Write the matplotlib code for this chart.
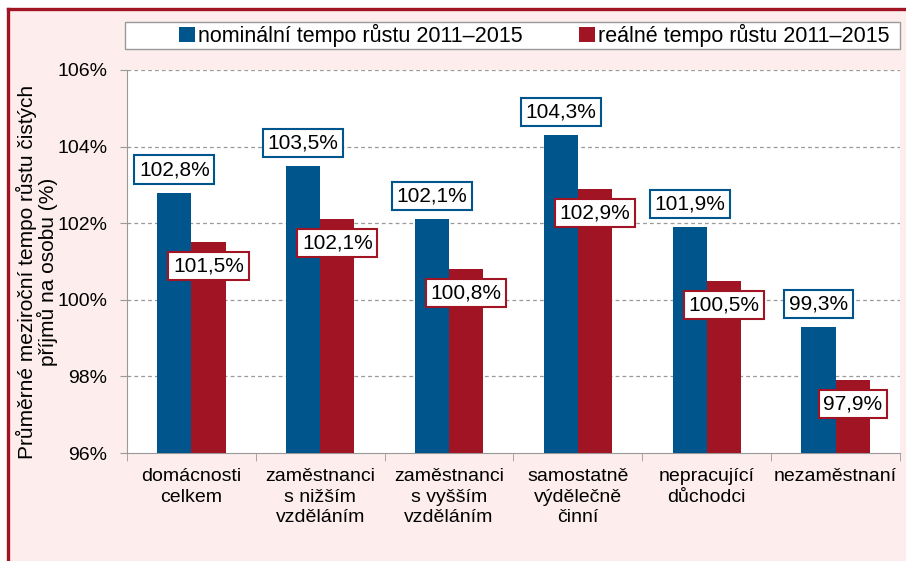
import numpy as np
import matplotlib.pyplot as plt
from matplotlib.patches import Rectangle, Patch
from matplotlib.lines import Line2D

plt.rcParams['font.family'] = ['Liberation Sans', 'DejaVu Sans']

categories = ["domácnosti\ncelkem", "zaměstnanci\ns nižším\nvzděláním",
              "zaměstnanci\ns vyšším\nvzděláním", "samostatně\nvýdělečně\nčinní",
              "nepracující\ndůchodci", "nezaměstnaní"]
nominal = [102.8, 103.5, 102.1, 104.3, 101.9, 99.3]
real = [101.5, 102.1, 100.8, 102.9, 100.5, 97.9]
series_names = ["nominální tempo růstu 2011–2015", "reálné tempo růstu 2011–2015"]

BLUE = "#00558C"
RED = "#A01423"
BG = "#FDEDED"
W, H = 906, 561

fig = plt.figure(figsize=(W / 100, H / 100), dpi=100)
fig.patch.set_facecolor(BG)

# white margin on the top and left, dark red border line inside it
fig.patches.append(Rectangle((0, 0), 8 / W, 1, transform=fig.transFigure,
                             facecolor="white", edgecolor="none", zorder=-10))
fig.patches.append(Rectangle((0, 1 - 9 / H), 1, 9 / H, transform=fig.transFigure,
                             facecolor="white", edgecolor="none", zorder=-10))
fig.lines.append(Line2D([8 / W, 1.01], [1 - 9 / H, 1 - 9 / H], transform=fig.transFigure,
                        color=RED, linewidth=2.4))
fig.lines.append(Line2D([8 / W, 8 / W], [-0.01, 1 - 9 / H], transform=fig.transFigure,
                        color=RED, linewidth=2.4))

ax = fig.add_axes([127 / W, 1 - 453 / H, 773 / W, 383 / H])
ax.set_facecolor("white")

x = np.arange(len(categories))
w = 0.265
ax.bar(x - w / 2, nominal, w, color=BLUE, zorder=3)
ax.bar(x + w / 2, real, w, color=RED, zorder=3)

ax.set_ylim(96, 106)
ax.set_xlim(-0.5, len(categories) - 0.5)
ax.set_yticks(np.arange(96, 107, 2))
ax.set_yticklabels([f"{v}%" for v in range(96, 107, 2)], fontsize=14)
for v in range(98, 107, 2):
    ax.axhline(v, color="#999999", linestyle=(0, (3, 2.5)), linewidth=0.9, zorder=1)

ax.set_xticks(x)
ax.set_xticklabels(categories, fontsize=14, linespacing=1.25, va="top")
ax.tick_params(axis="x", length=0, pad=11)
ax.set_xticks(np.arange(-0.5, len(categories)), minor=True)
ax.tick_params(axis="x", which="minor", length=6, color="#999999")
ax.tick_params(axis="y", length=5, color="#999999", pad=9)

for s in ["top", "right"]:
    ax.spines[s].set_visible(False)
for s in ["left", "bottom"]:
    ax.spines[s].set_color("#999999")

for i in range(len(categories)):
    ax.annotate(f"{nominal[i]:.1f}%".replace(".", ","), (x[i] - w / 2, nominal[i]),
                xytext=(0, 23), textcoords="offset pixels",
                ha="center", va="center", fontsize=15, zorder=5,
                bbox=dict(boxstyle="square,pad=0.22", fc="white", ec=BLUE, lw=1.5))
    ax.annotate(f"{real[i]:.1f}%".replace(".", ","), (x[i] + w / 2, real[i]),
                xytext=(0, -24), textcoords="offset pixels",
                ha="center", va="center", fontsize=15, zorder=5,
                bbox=dict(boxstyle="square,pad=0.22", fc="white", ec=RED, lw=1.5))

fig.text(37 / W, 1 - 272 / H,
         "Průměrné meziroční tempo růstu čistých\npříjmů na osobu (%)",
         rotation=90, ha="center", va="center", fontsize=15, linespacing=0.95)

# legend frame drawn separately
fig.patches.append(Rectangle((125 / W, 1 - 49 / H), 775 / W, 27 / H, transform=fig.transFigure,
                             facecolor="white", edgecolor="#999999", linewidth=1.0, zorder=1))
handles = [Patch(facecolor=BLUE), Patch(facecolor=RED)]
leg = fig.legend(handles, series_names, loc="center left", ncol=2,
                 bbox_to_anchor=(168 / W, 1 - 35.5 / H), fontsize=15.5,
                 handlelength=0.75, handleheight=0.75, handletextpad=0.15,
                 columnspacing=2.6, borderpad=0.0, frameon=False)

fig.savefig("out.png", dpi=100, facecolor=fig.get_facecolor())
